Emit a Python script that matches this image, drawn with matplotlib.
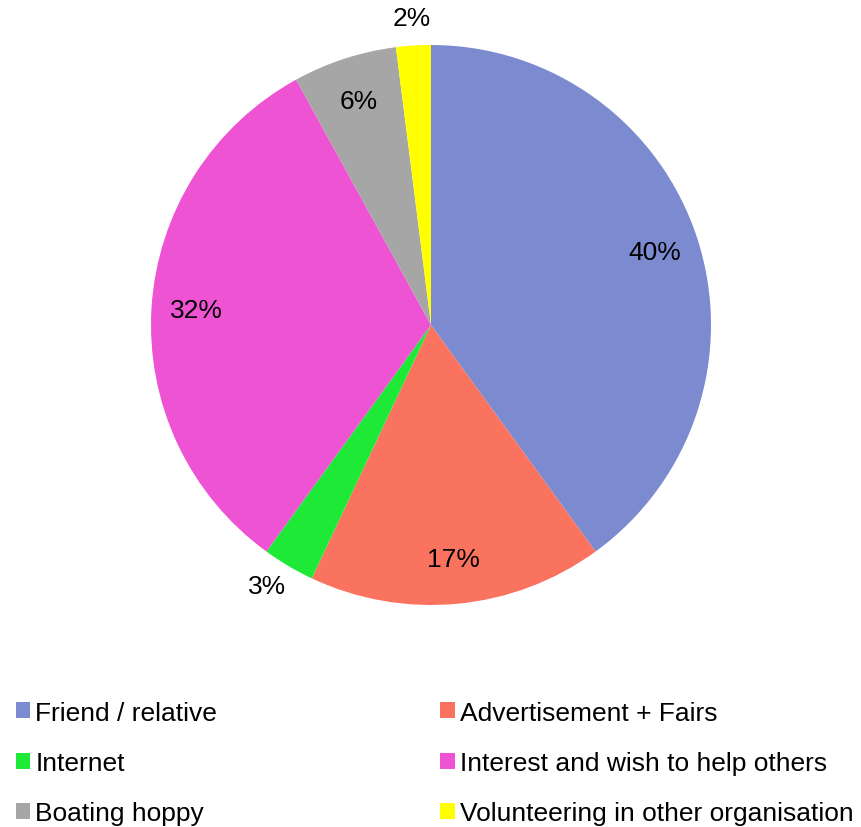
import numpy as np
import matplotlib.pyplot as plt

plt.rcParams['font.family'] = ['Liberation Sans', 'DejaVu Sans']

# Como os voluntários conheceram a organização
categorias = ['Friend / relative', 'Advertisement + Fairs', 'Internet',
              'Interest and wish to help others', 'Boating hoppy',
              'Volunteering in other organisation']
percentuais = [40, 17, 3, 32, 6, 2]
cores = ['#7C8BCF', '#FA735F', '#1EE937', '#EE53D4', '#A6A6A6', '#FFFF00']

W, H = 861, 828
fig = plt.figure(figsize=(W / 100, H / 100), dpi=100)

# eixo quadrado para a pizza (centro ~ (431, 326), raio 280 px)
cx, cy, r = 431, 326, 280
ax = fig.add_axes([(cx - r) / W, (H - cy - r) / H, 2 * r / W, 2 * r / H])

wedges, _ = ax.pie(percentuais, colors=cores, startangle=90, counterclock=False,
                   radius=1, wedgeprops=dict(linewidth=0))
ax.set_xlim(-1, 1)
ax.set_ylim(-1, 1)
ax.axis('off')

# rótulos: dentro da fatia, ou fora quando a fatia é pequena
for w, p in zip(wedges, percentuais):
    meio = (w.theta1 + w.theta2) / 2
    if p < 5:
        dist = 1.1
        meio += -1.5 if p == 3 else 0
    else:
        dist = 0.84
    ang = np.deg2rad(meio)
    ax.text(dist * np.cos(ang), dist * np.sin(ang), f'{p}%',
            ha='center', va='center', fontsize=19, color='black')

# legenda em duas colunas, preenchida linha a linha
ordem = [0, 2, 4, 1, 3, 5]
fig.legend([wedges[i] for i in ordem], [categorias[i] for i in ordem],
           ncol=2, loc='lower left', bbox_to_anchor=(5 / W, -9 / H),
           frameon=False, fontsize=19, handlelength=0.55, handleheight=0.55,
           handletextpad=0.2, columnspacing=8.45, labelspacing=1.0,
           borderaxespad=0)

fig.savefig('out.png', dpi=100)
